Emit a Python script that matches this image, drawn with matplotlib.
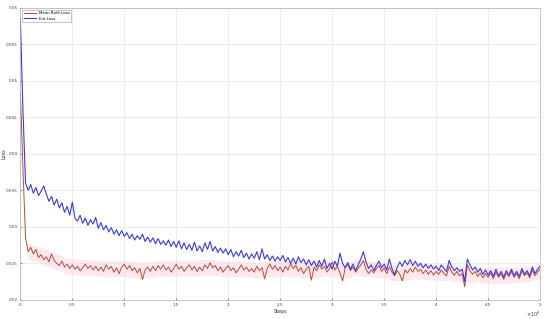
import numpy as np
import matplotlib
matplotlib.use("Agg")
import matplotlib.pyplot as plt

# steps (x 1e4 on axis), every 250 steps
steps = np.arange(0, 50001, 250)

# Ent Loss (blue), units of 1e-3
ent_loss = [
    58.5, 46.0, 36.0, 35.0, 35.8, 34.6, 35.4, 34.3, 34.9, 35.6,
    34.5, 33.5, 34.2, 33.0, 33.8, 32.6, 33.3, 32.0, 32.8, 31.6,
    33.4, 31.2, 30.8, 31.6, 30.5, 31.2, 30.2, 31.0, 30.4, 31.3,
    29.8, 30.6, 29.6, 30.2, 29.3, 29.9, 29.0, 29.6, 28.8, 29.5,
    28.7, 29.2, 28.4, 29.0, 28.2, 28.8, 28.3, 29.0, 28.0, 28.6,
    27.9, 28.5, 27.7, 28.4, 27.6, 28.1, 27.5, 28.2, 27.3, 28.0,
    27.2, 28.1, 27.0, 27.8, 26.9, 27.6, 26.8, 27.9, 26.7, 27.4,
    26.6, 27.8, 26.9, 28.0, 26.7, 27.3, 26.5, 27.1, 26.4, 27.0,
    26.2, 26.9, 25.9, 26.6, 26.0, 26.8, 25.8, 26.4, 25.6, 26.3,
    25.7, 26.6, 25.5, 27.0, 25.6, 26.2, 25.4, 26.0, 25.3, 25.9,
    25.4, 26.1, 25.2, 25.8, 25.0, 25.7, 24.9, 25.9, 25.1, 25.6,
    24.8, 25.5, 24.7, 25.3, 24.5, 25.4, 24.6, 25.6, 24.3, 25.0,
    24.2, 25.3, 24.6, 26.4, 25.0, 24.4, 25.1, 24.2, 24.9, 24.0,
    24.8, 25.6, 26.6, 25.2, 24.3, 24.8, 24.0, 24.7, 25.3, 24.4,
    24.9, 24.1, 25.6, 24.3, 23.4, 24.5, 25.2, 24.6, 25.4, 24.8,
    25.5, 24.7, 25.3, 24.6, 25.0, 24.4, 24.9, 24.3, 24.8, 24.2,
    24.6, 24.0, 24.8, 24.3, 23.9, 25.4, 24.5, 24.0, 24.4, 23.9,
    24.2, 22.5, 25.6, 24.8, 24.1, 24.5, 23.8, 24.3, 23.5, 24.1,
    23.4, 24.0, 23.2, 24.2, 23.3, 23.9, 23.1, 24.0, 23.4, 24.2,
    23.3, 23.9, 23.2, 24.3, 23.5, 24.0, 23.3, 24.5, 23.6, 24.2,
    24.6,
]

# Mean Both Loss (red), units of 1e-3
mean_loss = [
    48.4, 38.0, 28.5, 26.6, 27.2, 26.3, 26.9, 25.8, 26.2, 25.5,
    25.9, 25.2, 26.3, 25.4, 25.0, 24.7, 25.3, 24.5, 24.9, 24.3,
    24.8, 24.2, 24.6, 24.0, 24.4, 24.9, 24.3, 24.7, 24.1, 24.6,
    24.0, 24.5, 23.9, 24.8, 24.2, 24.6, 23.8, 24.4, 23.6, 24.5,
    24.9, 24.2, 24.7, 24.0, 24.4, 23.7, 24.3, 22.8, 24.1, 24.5,
    23.9, 24.6, 24.0, 24.7, 24.2, 24.8, 24.1, 24.5, 23.8, 24.3,
    24.9, 24.2, 24.6, 23.9, 24.4, 24.8, 24.1, 24.6, 23.9, 24.5,
    24.0, 24.8, 24.3, 25.1, 24.4, 24.7, 24.0, 24.5, 23.8, 24.3,
    24.7, 24.0, 24.4, 23.7, 24.2, 24.8, 24.1, 24.5, 23.9, 24.3,
    23.8, 24.6, 24.0, 24.4, 22.9, 24.3, 24.9, 24.2, 24.7, 24.0,
    24.5, 23.8, 24.6, 24.1, 25.0, 24.3, 24.7, 23.9, 24.4, 23.6,
    24.2, 24.6, 22.7, 24.5, 24.0, 24.8, 24.2, 24.6, 23.8, 24.3,
    25.2, 24.1, 24.6, 23.7, 22.6, 24.4, 24.9, 24.0, 24.5, 23.8,
    24.3, 24.8, 25.4, 24.2, 23.6, 24.1, 23.7, 24.3, 24.7, 23.9,
    24.4, 23.6, 24.5, 23.8, 23.3, 24.0, 23.5, 22.6, 24.1, 23.7,
    24.3, 23.8, 24.5, 23.9, 24.2, 23.6, 24.1, 23.5, 24.0, 23.4,
    23.9, 23.5, 24.1, 23.6, 23.3, 24.6, 23.8, 23.4, 23.9, 23.3,
    23.6, 21.8, 24.8, 24.0, 23.5, 23.9, 23.2, 23.7, 23.0, 23.6,
    23.1, 23.7, 22.9, 23.8, 23.1, 23.6, 22.8, 23.7, 23.2, 23.9,
    23.1, 23.6, 22.9, 24.0, 23.3, 23.7, 23.0, 24.1, 23.3, 23.8,
    24.2,
]

legend_labels = ["Mean Both Loss", "Ent Loss"]
x_ticks = [0, 0.5, 1, 1.5, 2, 2.5, 3, 3.5, 4, 4.5, 5]
y_ticks = [0.02, 0.025, 0.03, 0.035, 0.04, 0.045, 0.05, 0.055, 0.06]
y_tick_labels = ["0.02", "0.025", "0.03", "0.035", "0.04", "0.045", "0.05", "0.055", "0.06"]

x = steps / 1e4
blue = np.array(ent_loss) * 1e-3
red = np.array(mean_loss) * 1e-3

# shaded band around red (running mean +/- spread), after the initial drop
k = 9
pad = np.pad(red, (k // 2, k // 2), mode="edge")
smooth = np.convolve(pad, np.ones(k) / k, mode="valid")
start = 3
smooth_tail = red.copy()
smooth_tail[start:] = np.convolve(np.pad(red[start:], (k // 2, k // 2), mode="edge"),
                                  np.ones(k) / k, mode="valid")

fig = plt.figure(figsize=(5.5, 3.19), dpi=100)
ax = fig.add_axes([0.037, 0.06, 0.945, 0.915])

ax.fill_between(x[start:], smooth_tail[start:] - 0.0011, smooth_tail[start:] + 0.0011,
                color="#ffe2ea", alpha=0.75, lw=0)
l1, = ax.plot(x, red, color="#b84c36", lw=0.7)
l2, = ax.plot(x, blue, color="#3a3ae6", lw=0.8)

ax.set_xlim(0, 5)
ax.set_ylim(0.02, 0.06)
ax.set_xticks(x_ticks)
ax.set_xticklabels([("%g" % t) for t in x_ticks])
ax.set_yticks(y_ticks)
ax.set_yticklabels(y_tick_labels)
ax.tick_params(labelsize=3, length=1.5, width=0.4, direction="in", pad=2, colors="#404040")
ax.grid(True, color="#e6e6e6", lw=0.5)
for s in ax.spines.values():
    s.set_color("#b0b0b0")
    s.set_linewidth(0.5)

ax.set_xlabel("Steps", fontsize=3.5, labelpad=1.5, color="#303030")
ax.set_ylabel("Loss", fontsize=3.5, color="#303030")
ax.yaxis.set_label_coords(-0.026, 0.5)
ax.text(1.0, -0.035, r"$\times10^4$", transform=ax.transAxes, fontsize=3.5,
        ha="right", va="top", color="#404040")

leg = ax.legend([l1, l2], legend_labels, loc="upper left", fontsize=2.8,
                frameon=True, fancybox=False, handlelength=3, borderpad=0.4,
                labelspacing=0.3, bbox_to_anchor=(0.0, 1.0))
leg.get_frame().set_linewidth(0.4)
leg.get_frame().set_edgecolor("#808080")

fig.savefig("out.png", dpi=100, facecolor="white")
